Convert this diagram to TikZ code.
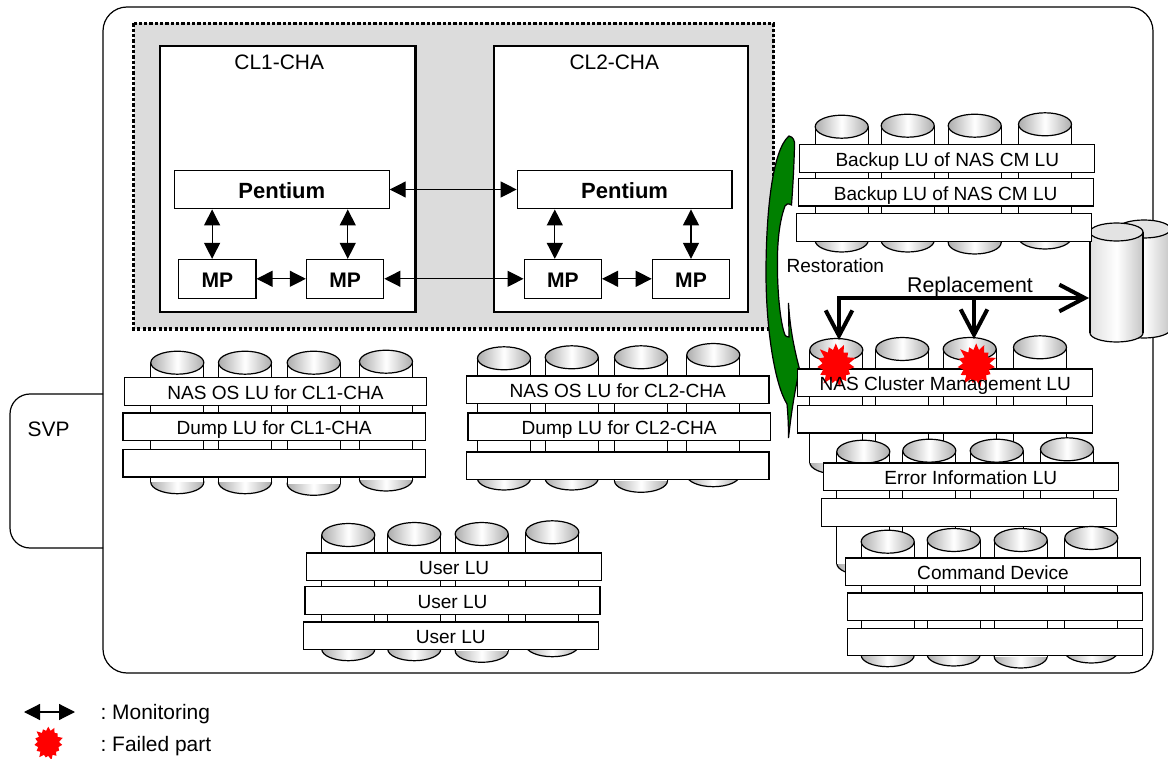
\documentclass[tikz,border=0pt]{standalone}
\usepackage{fontspec}
\setmainfont{Liberation Sans}
\usetikzlibrary{arrows.meta,shapes.symbols}
\frenchspacing

\definecolor{restgreen}{RGB}{0,128,0}
\definecolor{clustergray}{RGB}{220,220,220}

\tikzset{
  lufont/.style={font=\fontsize{14.3}{17}\selectfont},
  chafont/.style={font=\fontsize{15.7}{19}\selectfont},
  lubar/.style={draw, fill=white, lufont, inner sep=0pt, text height=11.8pt, text depth=0pt, minimum width=221.2pt, minimum height=20.6pt},
  lubarwide/.style={lubar, minimum width=226.8pt},
  pentiumbox/.style={draw, fill=white, font=\fontsize{16.5}{19}\selectfont\bfseries, inner sep=0pt, text height=13.4pt, text depth=0pt, minimum width=161pt, minimum height=29pt},
  mpbox/.style={draw, fill=white, font=\fontsize{15.8}{19}\selectfont\bfseries, inner sep=0pt, text height=13.2pt, text depth=0pt, minimum width=58pt, minimum height=29pt},
  chabox/.style={draw, fill=white, line width=1.7pt},
  monitor/.style={{Triangle[length=12pt,width=12pt]}-{Triangle[length=12pt,width=12pt]}},
  replace/.style={line width=3pt, -{Straight Barb[length=19pt,width=20pt]}},
  failed/.style={starburst, fill=red, draw=none, inner sep=0pt, starburst points=15, starburst point height=6.5pt},
  drumcap/.style={draw, left color=gray!65, right color=gray!65, middle color=white},
  sparebody/.style={left color=gray!25, right color=gray!45, middle color=white}
}

% x, middle of top cap, lowest point
\newcommand{\drum}[3]{%
  \draw[drumcap] (#1,#3-11.5) ellipse [x radius=26.5, y radius=11.5];
  \fill[white] (#1-26.5,#2) rectangle (#1+26.5,#3-11.5);
  \draw (#1-26.5,#2) -- (#1-26.5,#3-11.5) (#1+26.5,#2) -- (#1+26.5,#3-11.5);
  \draw[drumcap] (#1,#2) ellipse [x radius=26.5, y radius=11.5];
}

% x, middle of top cap, lowest point
\newcommand{\sparedrum}[3]{%
  \draw[sparebody] (#1,#3-9) ellipse [x radius=26.5, y radius=9];
  \shade[sparebody] (#1-26.5,#2) rectangle (#1+26.5,#3-9);
  \draw (#1-26.5,#2) -- (#1-26.5,#3-9) (#1+26.5,#2) -- (#1+26.5,#3-9);
  \draw[fill=clustergray!80!white] (#1,#2) ellipse [x radius=26.5, y radius=9];
}

\begin{document}
\begin{tikzpicture}[x=0.75pt, y=-0.75pt, line width=0.9pt]
  \useasboundingbox (0,0) rectangle (1168,759);

  % -- Frames --
  \draw[rounded corners=18pt] (103,7) rectangle (1153,673);
  \draw[rounded corners=15pt] (103,394) -- (10,394) -- (10,548) -- (103,548);
  \node[chafont, anchor=base west, inner sep=0pt] (svp) at (27,436) {SVP};

  % -- Cluster Area --
  \draw[fill=clustergray, line width=2.3pt, dash pattern=on 2.3pt off 1.7pt] (133.5,23.5) rectangle (773.5,329);
  \draw[chabox] (160,46) rectangle (415.5,312);
  \draw[chabox] (494,46) rectangle (748.3,312);
  \node[chafont, anchor=base, inner sep=0pt] (clonetitle) at (279.2,69.3) {CL1-CHA};
  \node[chafont, anchor=base, inner sep=0pt] (cltwotitle) at (614.3,69.3) {CL2-CHA};

  \node[pentiumbox] (pentiumone) at (281.8,189.5) {Pentium};
  \node[pentiumbox] (pentiumtwo) at (624.6,189.5) {Pentium};
  \node[mpbox] (mpa) at (217.3,278.8) {MP};
  \node[mpbox] (mpb) at (345.1,278.8) {MP};
  \node[mpbox] (mpc) at (562.8,278.8) {MP};
  \node[mpbox] (mpd) at (691,278.8) {MP};

  % -- Monitoring Arrows --
  \draw[monitor] (pentiumone) -- (pentiumtwo);
  \draw[monitor] (mpb) -- (mpc);
  \draw[monitor] (mpa) -- (mpb);
  \draw[monitor] (mpc) -- (mpd);
  \draw[monitor] ([xshift=-3.9pt]mpa.north) -- ([xshift=-3.9pt]mpa.north |- pentiumone.south);
  \draw[monitor] ([xshift=2pt]mpb.north) -- ([xshift=2pt]mpb.north |- pentiumone.south);
  \draw[monitor] ([xshift=-6pt]mpc.north) -- ([xshift=-6pt]mpc.north |- pentiumtwo.south);
  \draw[monitor] (mpd.north) -- (mpd.north |- pentiumtwo.south);

  % -- Spare Drives --
  \sparedrum{1144}{229}{338}
  \sparedrum{1116.5}{232}{342}

  % -- Restoration Shape --
  \draw[fill=restgreen] (789,136) .. controls (793,137) and (795,140) .. (794.5,146)
    .. controls (794,165) and (793,185) .. (791.5,205)
    .. controls (788,203) and (786,204) .. (785,206)
    .. controls (778,225) and (777,250) .. (777.5,273)
    .. controls (778,300) and (781,325) .. (785,335)
    .. controls (786,336.5) and (787,337) .. (789,337)
    -- (788.5,303)
    .. controls (790,330) and (795,352) .. (799.5,369)
    .. controls (794,395) and (791,415) .. (788.5,438)
    .. controls (788.5,425) and (788,415) .. (787,404)
    .. controls (775,385) and (766,330) .. (766,273)
    .. controls (766,215) and (772,150) .. (789,136) -- cycle;
  \node[lufont, anchor=base west, inner sep=0pt] (restlabel) at (786,272.7) {Restoration};

  % -- Backup Stack --
  \foreach \cx/\ctop/\cbot in {841.7/126.7/252, 907.7/125.7/252, 974.7/125.7/254, 1045/124.3/249} {
    \drum{\cx}{\ctop}{\cbot}
  }
  \node[lubar] (backupa) at (947.3,158.5) {Backup LU of NAS CM LU};
  \node[lubar] (backupb) at (945.7,192.3) {Backup LU of NAS CM LU};
  \node[lubar] (backupc) at (943.8,227.5) {};

  % -- CL1 Stack --
  \foreach \cx/\ctop/\cbot in {177.3/362.7/493.7, 245/362.7/493.7, 313.7/362.7/495.3, 386/361.7/491} {
    \drum{\cx}{\ctop}{\cbot}
  }
  \node[lubarwide] (osone) at (275.5,391.5) {NAS OS LU for CL1-CHA};
  \node[lubarwide] (dumpone) at (274.2,426.7) {Dump LU for CL1-CHA};
  \node[lubarwide] (blankone) at (274.2,463.3) {};

  % -- CL2 Stack --
  \foreach \cx/\ctop/\cbot in {504/358.3/490, 571.7/357.3/490, 641/357.3/492.3, 713.3/355/486.7} {
    \drum{\cx}{\ctop}{\cbot}
  }
  \node[lubarwide] (ostwo) at (617.7,389.8) {NAS OS LU for CL2-CHA};
  \node[lubarwide] (dumptwo) at (619.2,426.8) {Dump LU for CL2-CHA};
  \node[lubarwide] (blanktwo) at (617.7,465.8) {};

  % -- User Stack --
  \foreach \cx/\ctop/\cbot in {348.3/535/660.7, 414.3/534/660.7, 481.7/534/662.3, 552.3/532.3/656.7} {
    \drum{\cx}{\ctop}{\cbot}
  }
  \node[lubar] (usera) at (454.2,566.8) {User LU};
  \node[lubar] (userb) at (452.5,600.5) {User LU};
  \node[lubar] (userc) at (450.8,635.8) {User LU};

  % -- Cluster Management Stack --
  \foreach \cx/\ctop/\cbot in {836.3/350/474, 902.3/349/474, 969.7/349/474, 1040/347.3/474} {
    \drum{\cx}{\ctop}{\cbot}
  }
  \node[lubar] (cmbar) at (945.3,382.7) {};
  \node[lubar] (cmblank) at (945.3,419.2) {};
  \node[failed, minimum width=33pt, minimum height=36pt] (burstone) at (835.8,365) {};
  \node[failed, minimum width=33pt, minimum height=36pt] (bursttwo) at (976.2,365) {};
  \node[lufont, inner sep=0pt, text height=11.8pt, text depth=0pt] (cmlabel) at (945.3,382.7) {NAS Cluster Management LU};

  % -- Error Stack --
  \foreach \cx/\ctop/\cbot in {863.3/451.7/575, 929.3/450.7/575, 996.7/450.7/575, 1067/449.3/575} {
    \drum{\cx}{\ctop}{\cbot}
  }
  \node[lubar] (errora) at (970.8,476.8) {Error Information LU};
  \node[lubar] (errorb) at (969.3,512.5) {};

  % -- Command Stack --
  \foreach \cx/\ctop/\cbot in {887.7/541.7/666.7, 953.7/540/666, 1020.7/540/668, 1091.3/538/663} {
    \drum{\cx}{\ctop}{\cbot}
  }
  \node[lubar] (cmda) at (993,571.7) {Command Device};
  \node[lubar] (cmdb) at (995,606.7) {};
  \node[lubar] (cmdc) at (995,642) {};

  % -- Replacement Arrows --
  \coordinate (replcorner) at (839,298);
  \coordinate (replbranch) at (974,298);
  \coordinate (spareleft) at (1089,298);
  \coordinate (failone) at (839,340);
  \coordinate (failtwo) at (974,339);
  \draw[replace, {Straight Barb[length=19pt,width=20pt]}-{Straight Barb[length=19pt,width=20pt]}] (failone) -- (replcorner) -- (spareleft);
  \draw[replace] (replbranch) -- (failtwo);
  \node[font=\fontsize{16}{19}\selectfont, anchor=base, inner sep=0pt] (repllabel) at (970,292.7) {Replacement};

  % -- Legend --
  \coordinate (legendleft) at (24,712);
  \coordinate (legendright) at (75,712);
  \draw[monitor] (legendleft) -- (legendright);
  \node[chafont, anchor=base west, inner sep=0pt] (legendmon) at (100,719.3) {: Monitoring};
  \node[failed, starburst point height=4pt, minimum width=24pt, minimum height=27pt] (legendburst) at (48.3,743.2) {};
  \node[chafont, anchor=base west, inner sep=0pt] (legendfail) at (100,751.7) {: Failed part};
\end{tikzpicture}
\end{document}
